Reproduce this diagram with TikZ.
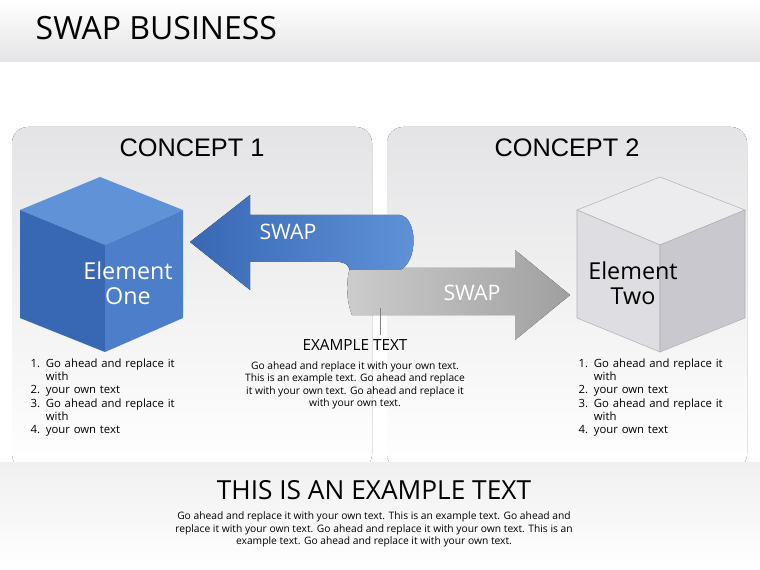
\documentclass[tikz,border=0pt]{standalone}
\usepackage{fontspec}
\setmainfont{Open Sans}
\newfontfamily\conceptfont{Liberation Sans}
\usetikzlibrary{positioning}
\definecolor{panelGray}{RGB}{228,228,230}
\definecolor{cubeBlue}{RGB}{76,126,201}
\definecolor{cubeBlueDark}{RGB}{56,104,180}
\definecolor{cubeBlueTop}{RGB}{96,146,216}
\definecolor{cubeGray}{RGB}{222,222,226}
\definecolor{cubeGrayDark}{RGB}{200,200,206}
\definecolor{cubeGrayTop}{RGB}{236,236,238}
\tikzstyle{panelStyle} = [rounded corners = 12, top color=panelGray, bottom color=white, draw=none]
\tikzstyle{conceptText} = [font=\conceptfont\fontsize{19}{22}\selectfont]
\tikzstyle{elementText} = [font=\fontsize{17.5}{19}\selectfont, align=center]
\tikzstyle{swapText} = [font=\fontsize{16}{18}\selectfont, text=white]
\tikzstyle{listText} = [font=\fontsize{8.5}{10}\selectfont, align=left, anchor=north west, text width=118]
\tikzstyle{bodyText} = [font=\fontsize{7.7}{9.2}\selectfont, align=center]
\newcommand{\itemList}[3]{\node [listText] (#1) at (#2, #3) {1. Go ahead and replace it\\ \hphantom{1. }with\\2. your own text\\3. Go ahead and replace it\\ \hphantom{1. }with\\4. your own text};}
\begin{document}
\begin{tikzpicture}[x = 0.75pt, y = -0.75pt]
  \useasboundingbox (0,0) rectangle (760,570);
  \fill [top color=white, bottom color=panelGray] (0,0) rectangle (760,62);
  \node [anchor=west, font=\fontsize{24}{28}\selectfont] (title) at (31,28) {SWAP BUSINESS};
  % panels
  \fill [panelStyle] (12,127) rectangle (372,470);
  \fill [panelStyle] (387,127) rectangle (747,470);
  \fill [top color=gray!12, bottom color=white] (0,462) rectangle (760,570);
  \node [conceptText] (conceptOne) at (192,148) {CONCEPT 1};
  \node [conceptText] (conceptTwo) at (567,148) {CONCEPT 2};
  % blue cube
  \fill [cubeBlueTop] (20,210) -- (100,177) -- (183,210) -- (105,245) -- cycle;
  \fill [cubeBlueDark] (20,210) -- (105,245) -- (105,352) -- (20,318) -- cycle;
  \fill [cubeBlue] (105,245) -- (183,210) -- (183,318) -- (105,352) -- cycle;
  \node [elementText, text=white] (elementOne) at (128,283) {Element\\One};
  % gray cube
  \filldraw [cubeGrayTop, draw=gray!60] (577,210) -- (660,177) -- (745,210) -- (660,245) -- cycle;
  \filldraw [cubeGray, draw=gray!60] (577,210) -- (660,245) -- (660,352) -- (577,318) -- cycle;
  \filldraw [cubeGrayDark, draw=gray!60] (660,245) -- (745,210) -- (745,318) -- (660,352) -- cycle;
  \node [elementText] (elementTwo) at (633,283) {Element\\Two};
  % swap arrows
  \fill [left color=gray!40, right color=gray!75] (350,268) -- (515,268) -- (515,250) -- (570,295) -- (515,340) -- (515,315) -- (352,315) .. controls (346,300) and (346,280) .. (350,268) -- cycle;
  \fill [left color=cubeBlueDark, right color=cubeBlueTop] (190,242) -- (250,195) -- (250,215) -- (400,215) .. controls (418,218) and (418,262) .. (400,270) -- (350,270) .. controls (347,264) .. (340,262) -- (250,262) -- (250,290) -- cycle;
  \node [swapText] (swapLeft) at (288,232) {SWAP};
  \node [swapText] (swapRight) at (472,293) {SWAP};
  % example text
  \node [font=\fontsize{11.5}{13}\selectfont] (exampleHead) at (355,345) {EXAMPLE TEXT};
  \coordinate (pointer) at (380,308);
  \draw [gray] (pointer) -- (exampleHead.north -| pointer);
  \node [bodyText, below = -2 of exampleHead] (exampleBody) {Go ahead and replace it with your own text.\\This is an example text. Go ahead and replace\\it with your own text. Go ahead and replace it\\with your own text.};
  \itemList{listOne}{26}{354}
  \itemList{listTwo}{574}{354}
  % bottom
  \node [font=\fontsize{19.7}{22}\selectfont] (bottomHead) at (374,490) {THIS IS AN EXAMPLE TEXT};
  \node [bodyText, below = -3 of bottomHead] (bottomBody) {Go ahead and replace it with your own text. This is an example text. Go ahead and\\replace it with your own text. Go ahead and replace it with your own text. This is an\\example text. Go ahead and replace it with your own text.};
\end{tikzpicture}
\end{document}
